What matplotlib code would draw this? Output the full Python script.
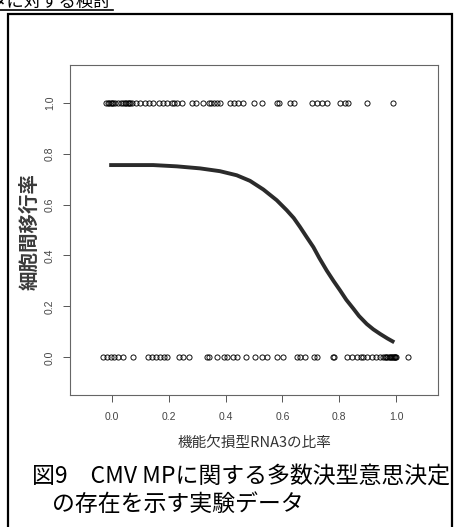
import matplotlib.pyplot as plt
from matplotlib.patches import Rectangle
from matplotlib.lines import Line2D

plt.rcParams['font.family'] = ['Noto Sans CJK JP', 'DejaVu Sans']

# 観測点 (y=1 の行)
x_one = [-0.02, -0.015, -0.01, -0.005, 0.0, 0.005, 0.01, 0.02, 0.03, 0.04,
         0.046, 0.05, 0.055, 0.06, 0.065, 0.072, 0.085, 0.10, 0.115, 0.13,
         0.145, 0.165, 0.18, 0.195, 0.21, 0.22, 0.23, 0.245, 0.28, 0.295,
         0.32, 0.34, 0.35, 0.36, 0.37, 0.38, 0.415, 0.43, 0.445, 0.46,
         0.50, 0.527, 0.58, 0.587, 0.627, 0.641, 0.703, 0.721, 0.74, 0.756,
         0.803, 0.82, 0.831, 0.899, 0.99]
# 観測点 (y=0 の行)
x_zero = [-0.031, -0.016, -0.005, 0.007, 0.022, 0.038, 0.075, 0.128, 0.14,
          0.155, 0.169, 0.183, 0.193, 0.237, 0.249, 0.272, 0.336, 0.343,
          0.371, 0.394, 0.404, 0.427, 0.439, 0.472, 0.504, 0.529, 0.545,
          0.58, 0.603, 0.65, 0.662, 0.68, 0.711, 0.723, 0.777, 0.782, 0.829,
          0.844, 0.864, 0.876, 0.885, 0.897, 0.914, 0.93, 0.945, 0.955, 0.96,
          0.965, 0.97, 0.975, 0.98, 0.983, 0.986, 0.99, 0.993, 0.995, 0.997,
          1.0, 1.043]

# 回帰曲線
curve_x = [-0.01, 0.145, 0.228, 0.31, 0.38, 0.439, 0.486, 0.533, 0.58, 0.615,
           0.64, 0.662, 0.685, 0.709, 0.73, 0.756, 0.78, 0.803, 0.825, 0.85,
           0.87, 0.897, 0.92, 0.944, 0.97, 0.994]
curve_y = [0.755, 0.755, 0.750, 0.742, 0.731, 0.715, 0.693, 0.659, 0.617,
           0.578, 0.547, 0.512, 0.473, 0.433, 0.390, 0.341, 0.300, 0.263,
           0.226, 0.191, 0.162, 0.131, 0.110, 0.092, 0.074, 0.059]

ticks = [0.0, 0.2, 0.4, 0.6, 0.8, 1.0]
tick_labels = ['0.0', '0.2', '0.4', '0.6', '0.8', '1.0']

fig = plt.figure(figsize=(4.59, 5.27), dpi=100)
ax = fig.add_axes([70 / 459, 1 - 395 / 527, 368 / 459, 330 / 527])

ax.plot(x_one, [1.0] * len(x_one), 'o', ms=3.7, mfc='none', mec='black', mew=0.65)
ax.plot(x_zero, [0.0] * len(x_zero), 'o', ms=3.7, mfc='none', mec='black', mew=0.65)
ax.plot(curve_x, curve_y, color='#2b2b2b', lw=2.8, solid_capstyle='butt',
        solid_joinstyle='round')

ax.set_xlim(-0.148, 1.148)
ax.set_ylim(-0.148, 1.148)
ax.set_xticks(ticks)
ax.set_xticklabels(tick_labels, family='Liberation Sans', fontsize=7.5, color='#444444')
ax.set_yticks(ticks)
ax.set_yticklabels(tick_labels, family='Liberation Sans', fontsize=7.5, color='#444444',
                   rotation=90, va='center')
ax.tick_params(length=5, width=0.7, color='#555555')
ax.tick_params(axis='x', pad=7)
ax.tick_params(axis='y', pad=6)
for s in ax.spines.values():
    s.set_color('#666666')
    s.set_linewidth(0.8)

ax.set_xlabel('機能欠損型RNA3の比率', fontsize=10.5, color='#333333', labelpad=10)
fig.text(30 / 459, 1 - 231 / 527, '細胞間移行率', fontsize=14, color='#3a3a3a',
         fontweight='bold', rotation=90, ha='center', va='center')

# キャプション
fig.text(32 / 459, 1 - 476 / 527, '図9\u3000CMV MPに関する多数決型意思決定',
         fontsize=16.5, color='black', ha='left', va='center')
fig.text(52 / 459, 1 - 504 / 527, 'の存在を示す実験データ',
         fontsize=16.5, color='black', ha='left', va='center')

# 外枠と上部の見出し (上端で切れている)
fig.add_artist(Rectangle((7.5 / 459, -0.05), (452 - 7.5) / 459, 1.05 - 13.5 / 527,
                         transform=fig.transFigure, fill=False, lw=1.6, ec='black'))
fig.text(111 / 459, 1 - 7 / 527, 'タに対する検討', fontsize=12.5, color='black',
         ha='right', va='baseline')
fig.add_artist(Line2D([0, 113 / 459], [1 - 9.5 / 527] * 2, transform=fig.transFigure,
                      color='black', lw=1.2))

fig.savefig('out.png', dpi=100)
